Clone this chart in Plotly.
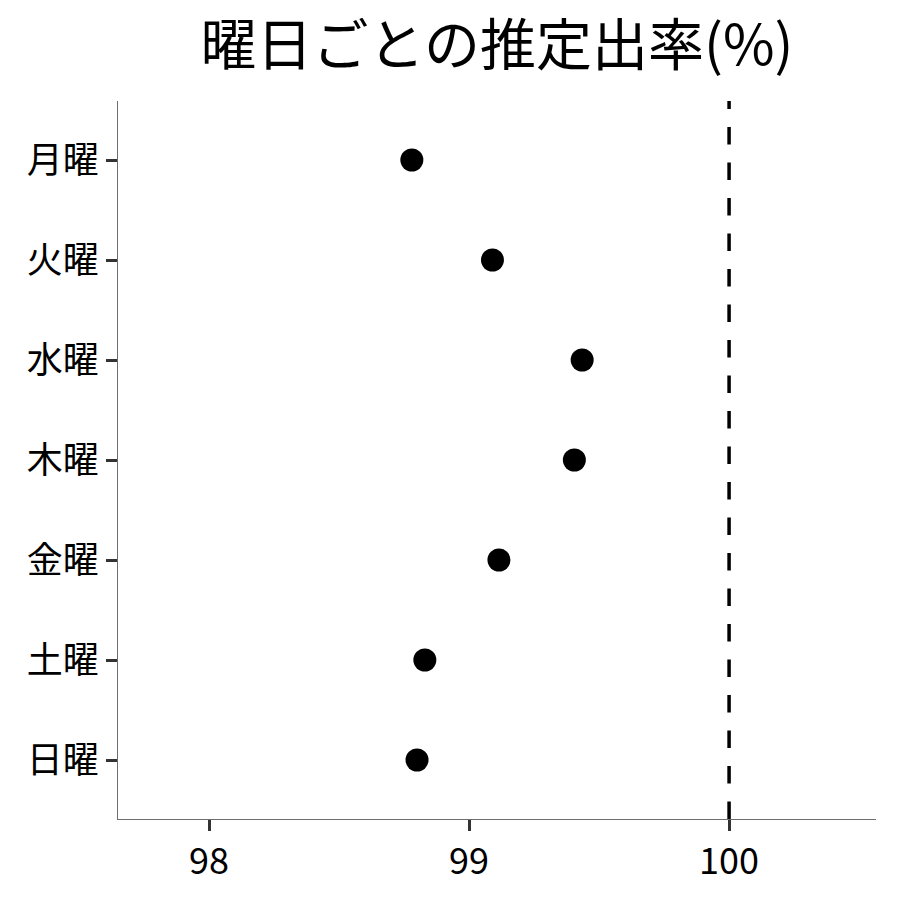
import plotly.graph_objects as go

days = ["月曜", "火曜", "水曜", "木曜", "金曜", "土曜", "日曜"]
rates = [98.78, 99.09, 99.435, 99.405, 99.115, 98.83, 98.80]
ref_value = 100
x_ticks = [98, 99, 100]
title_text = "曜日ごとの推定出率(%)"

font_family = "Noto Sans CJK JP"

W = 892
H = 892

fig = go.Figure()
fig.add_trace(go.Scatter(
    x=rates, y=days, mode="markers",
    marker=dict(size=23, color="black"),
    showlegend=False,
))
fig.add_shape(type="line", xref="x", yref="paper",
              x0=ref_value, x1=ref_value, y0=0, y1=1,
              line=dict(color="black", width=3.5, dash="17.5px,18px"))

fig.update_layout(
    width=W, height=H,
    paper_bgcolor="white", plot_bgcolor="white",
    margin=dict(l=110, r=24, t=93, b=81),
    font=dict(family=font_family, color="black", size=36),
    title=dict(text=title_text, x=(110 + (W - 24)) / 2 / W, xanchor="center",
               y=1 - 37 / H, yanchor="middle",
               font=dict(size=56, family=font_family, color="black")),
)
fig.update_xaxes(
    range=[97.65, 100.565], tickvals=x_ticks, ticktext=[str(v) for v in x_ticks],
    showgrid=False, zeroline=False, showline=True, linecolor="#6e6e6e", linewidth=1.3,
    ticks="outside", ticklen=11, tickwidth=3, tickcolor="#333333",
    tickfont=dict(size=36, family=font_family, color="black"),
)
fig.update_yaxes(
    categoryorder="array", categoryarray=days,
    range=[6.59, -0.59],
    showgrid=False, zeroline=False, showline=True, linecolor="#6e6e6e", linewidth=1.3,
    ticks="outside", ticklen=11, tickwidth=3, tickcolor="#333333",
    tickfont=dict(size=36, family=font_family, color="black"),
)

fig.write_html("out.html")
